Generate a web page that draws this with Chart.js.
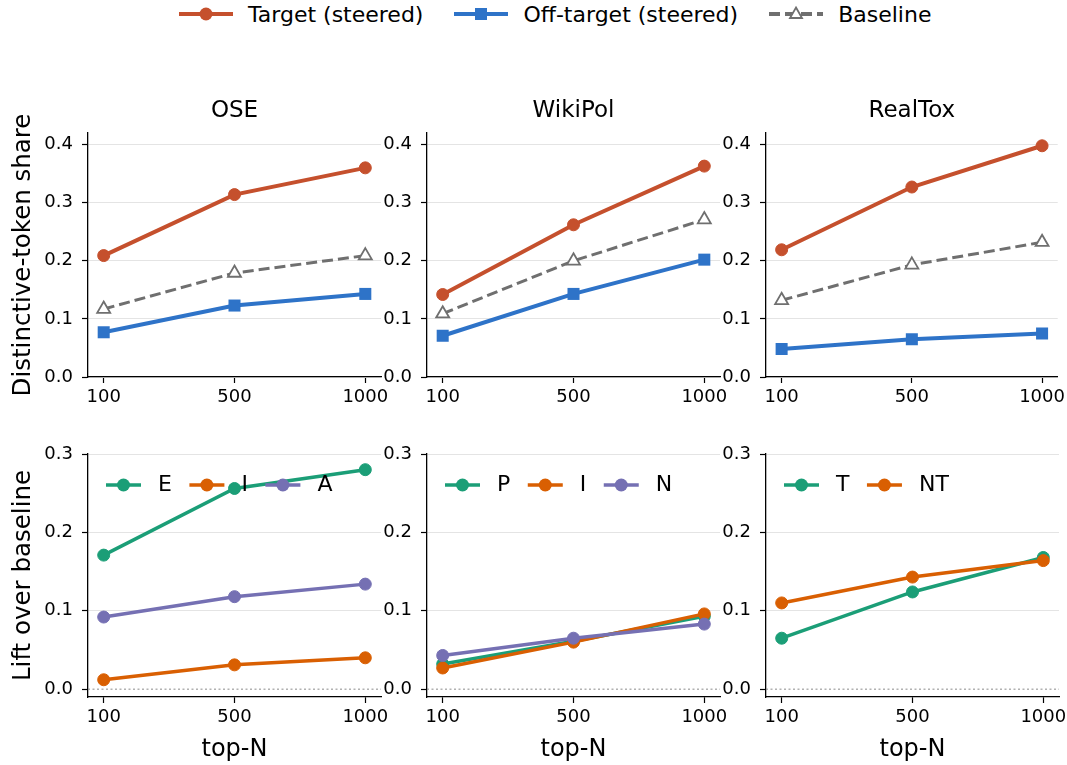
<!DOCTYPE html>
<html lang="en">
<head>
<meta charset="UTF-8">
<title>Distinctive-token share / Lift over baseline</title>
<script src="https://cdn.jsdelivr.net/npm/chart.js"></script>
<style>
  body { margin: 0; background: #fff; width: 1067px; height: 765px; overflow: hidden; position: relative; font-family: "DejaVu Sans", sans-serif; }
  canvas { position: absolute; }
  .legenda { position: absolute; left: 179px; top: 0; height: 28px; display: flex; align-items: center; font-size: 22px; color: #000; white-space: nowrap; }
  .legenda svg { margin-right: 15px; }
  .legenda span { margin-right: 31px; }
</style>
</head>
<body>
<div class="legenda" id="legendaTopo"></div>

<script>
// --- dados ---
const topN = ['100', '500', '1000'];
const panelTitles = ['OSE', 'WikiPol', 'RealTox'];
const shareTicks = [0, 0.1, 0.2, 0.3, 0.4];
const liftTicks = [0, 0.1, 0.2, 0.3];
const seriesLabels = ['Target (steered)', 'Off-target (steered)', 'Baseline'];

const oseTarget = [0.209, 0.314, 0.360];
const oseOffTarget = [0.077, 0.123, 0.143];
const oseBaseline = [0.117, 0.179, 0.209];
const wikiTarget = [0.142, 0.262, 0.363];
const wikiOffTarget = [0.071, 0.143, 0.202];
const wikiBaseline = [0.109, 0.200, 0.271];
const toxTarget = [0.219, 0.327, 0.398];
const toxOffTarget = [0.048, 0.065, 0.075];
const toxBaseline = [0.132, 0.193, 0.232];

const oseLiftLabels = ['E', 'I', 'A'];
const oseLiftE = [0.171, 0.256, 0.280];
const oseLiftI = [0.012, 0.031, 0.040];
const oseLiftA = [0.092, 0.118, 0.134];
const wikiLiftLabels = ['P', 'I', 'N'];
const wikiLiftP = [0.032, 0.061, 0.093];
const wikiLiftI = [0.027, 0.060, 0.096];
const wikiLiftN = [0.043, 0.065, 0.083];
const toxLiftLabels = ['T', 'NT'];
const toxLiftT = [0.065, 0.124, 0.168];
const toxLiftNT = [0.110, 0.143, 0.164];

// --- estilo ---
const corTarget = '#c5502d';
const corOff = '#2e73c8';
const corBase = '#6f6f6f';
const dark2 = ['#1b9e77', '#d95f02', '#7570b3'];

Chart.defaults.font.family = '"DejaVu Sans", sans-serif';
Chart.defaults.color = '#000';
Chart.defaults.animation = false;

const colunas = [
  { left: 0, width: 395, yw: 88, padR: 14 },
  { left: 372, width: 362, yw: 55, padR: 14 },
  { left: 711, width: 356, yw: 55, padR: 8 }
];

// legenda de cima (html)
function iconeSvg(tipo, cor) {
  let marca = '';
  if (tipo === 'circle') marca = `<circle cx="27" cy="14" r="6.5" fill="${cor}"/>`;
  if (tipo === 'rect') marca = `<rect x="21" y="8" width="12" height="12" fill="${cor}"/>`;
  if (tipo === 'triangle') marca = `<polygon points="27,7.5 33,18 21,18" fill="#fff" stroke="${cor}" stroke-width="1.8"/>`;
  const dash = tipo === 'triangle' ? 'stroke-dasharray="11,5"' : '';
  return `<svg width="54" height="28"><line x1="0" y1="14" x2="54" y2="14" stroke="${cor}" stroke-width="4" ${dash}/>${marca}</svg>`;
}
const legTopo = document.getElementById('legendaTopo');
legTopo.innerHTML =
  iconeSvg('circle', corTarget) + `<span>${seriesLabels[0]}</span>` +
  iconeSvg('rect', corOff) + `<span>${seriesLabels[1]}</span>` +
  iconeSvg('triangle', corBase) + `<span>${seriesLabels[2]}</span>`;

// linha pontilhada no zero
const linhaZero = {
  id: 'linhaZero',
  beforeDatasetsDraw(chart, args, opts) {
    if (!opts.show) return;
    const ctx = chart.ctx, a = chart.chartArea;
    const y = chart.scales.y.getPixelForValue(0);
    ctx.save();
    ctx.strokeStyle = '#8a8a8a';
    ctx.lineWidth = 1;
    ctx.setLineDash([2, 2.5]);
    ctx.beginPath();
    ctx.moveTo(a.left, y);
    ctx.lineTo(a.right, y);
    ctx.stroke();
    ctx.restore();
  }
};

// legenda dentro do painel (linha de baixo)
const legendaInterna = {
  id: 'legendaInterna',
  afterDatasetsDraw(chart, args, opts) {
    if (!opts.show) return;
    const ctx = chart.ctx, a = chart.chartArea;
    let x = a.left + 18;
    const y = a.top + 31;
    ctx.save();
    ctx.font = '22px "DejaVu Sans"';
    ctx.textBaseline = 'middle';
    chart.data.datasets.forEach(ds => {
      ctx.strokeStyle = ds.borderColor;
      ctx.lineWidth = ds.borderWidth;
      ctx.beginPath();
      ctx.moveTo(x, y);
      ctx.lineTo(x + 35, y);
      ctx.stroke();
      ctx.fillStyle = ds.borderColor;
      ctx.beginPath();
      ctx.arc(x + 17.5, y, 6.5, 0, Math.PI * 2);
      ctx.fill();
      ctx.fillStyle = '#000';
      ctx.fillText(ds.label, x + 52, y);
      x += 52 + ctx.measureText(ds.label).width + 17.5;
    });
    ctx.restore();
  }
};

function pontos(vals) {
  return vals.map((v, i) => ({ x: i, y: v }));
}

function eixos(yMin, yMax, yTicks, yTitle, xTitle, yw, xh, esconderZero) {
  return {
    x: {
      type: 'linear', min: -0.12, max: 2.12,
      afterBuildTicks: s => { s.ticks = topN.map((_, i) => ({ value: i })); },
      afterFit: s => { s.height = xh; s.paddingLeft = 0; s.paddingRight = 0; },
      ticks: { callback: v => topN[v], padding: 4, font: { size: 18 }, color: '#000', maxRotation: 0, autoSkip: false },
      grid: { drawOnChartArea: false, tickLength: 6, tickColor: '#000', tickWidth: 1.2 },
      border: { color: '#000', width: 1.3 },
      title: { display: !!xTitle, text: xTitle, font: { size: 24 }, color: '#000', padding: { top: 0, bottom: 1 } }
    },
    y: {
      min: yMin, max: yMax,
      afterBuildTicks: s => { s.ticks = yTicks.map(v => ({ value: v })); },
      afterFit: s => { s.width = yw; s.paddingTop = 0; s.paddingBottom = 0; },
      ticks: { callback: v => v.toFixed(1), padding: 9, font: { size: 18 }, color: '#000' },
      grid: {
        color: c => (esconderZero && c.tick && c.tick.value === 0) ? 'rgba(0,0,0,0)' : '#e4e4e4',
        lineWidth: 1, tickColor: '#000', tickLength: 6, tickWidth: 1.2
      },
      border: { color: '#000', width: 1.3 },
      title: { display: !!yTitle, text: yTitle, font: { size: 24.5 }, color: '#000', padding: { top: 9, bottom: 0 } }
    }
  };
}

function novoCanvas(col, top, height) {
  const c = document.createElement('canvas');
  c.width = col.width;
  c.height = height;
  c.style.left = col.left + 'px';
  c.style.top = top + 'px';
  c.style.width = col.width + 'px';
  c.style.height = height + 'px';
  document.body.appendChild(c);
  return c.getContext('2d');
}

// --- linha de cima ---
const topo = [
  [oseTarget, oseOffTarget, oseBaseline],
  [wikiTarget, wikiOffTarget, wikiBaseline],
  [toxTarget, toxOffTarget, toxBaseline]
];

topo.forEach((series, k) => {
  const col = colunas[k];
  const ctx = novoCanvas(col, 97, 320);
  new Chart(ctx, {
    type: 'line',
    data: {
      datasets: [
        { label: seriesLabels[0], data: pontos(series[0]), borderColor: corTarget, backgroundColor: corTarget,
          borderWidth: 4, pointStyle: 'circle', pointRadius: 6, pointBorderWidth: 1, order: 0 },
        { label: seriesLabels[1], data: pontos(series[1]), borderColor: corOff, backgroundColor: corOff,
          borderWidth: 4, pointStyle: 'rect', pointRadius: 8.5, pointBorderWidth: 0, order: -1 },
        { label: seriesLabels[2], data: pontos(series[2]), borderColor: corBase, backgroundColor: '#fff',
          borderWidth: 3, borderDash: [11, 5], pointStyle: 'triangle', pointRadius: 7.5,
          pointBackgroundColor: '#fff', pointBorderColor: corBase, pointBorderWidth: 1.8, order: -2 }
      ]
    },
    options: {
      responsive: false,
      layout: { padding: { left: 0, right: col.padR, top: 0, bottom: 0 } },
      scales: eixos(0, 0.42, shareTicks, k === 0 ? 'Distinctive-token share' : '', '', col.yw, 40, false),
      plugins: {
        legend: { display: false },
        tooltip: { enabled: false },
        title: { display: true, fullSize: false, text: panelTitles[k], font: { size: 23, weight: 'normal' }, color: '#000', padding: { top: 0, bottom: 8.4 } }
      }
    }
  });
});

// --- linha de baixo ---
const baixo = [
  { labels: oseLiftLabels, series: [oseLiftE, oseLiftI, oseLiftA] },
  { labels: wikiLiftLabels, series: [wikiLiftP, wikiLiftI, wikiLiftN] },
  { labels: toxLiftLabels, series: [toxLiftT, toxLiftNT] }
];

baixo.forEach((p, k) => {
  const col = colunas[k];
  const ctx = novoCanvas(col, 434, 331);
  new Chart(ctx, {
    type: 'line',
    data: {
      datasets: p.series.map((vals, i) => ({
        label: p.labels[i], data: pontos(vals), borderColor: dark2[i], backgroundColor: dark2[i],
        borderWidth: 3.5, pointStyle: 'circle', pointRadius: 6, pointBorderWidth: 1, order: -i
      }))
    },
    options: {
      responsive: false,
      layout: { padding: { left: 0, right: col.padR, top: 20, bottom: 0 } },
      scales: eixos(-0.01, 0.3, liftTicks, k === 0 ? 'Lift over baseline' : '', 'top-N', col.yw, 68, true),
      plugins: {
        legend: { display: false },
        tooltip: { enabled: false },
        linhaZero: { show: true },
        legendaInterna: { show: true }
      }
    },
    plugins: [linhaZero, legendaInterna]
  });
});
</script>
</body>
</html>
